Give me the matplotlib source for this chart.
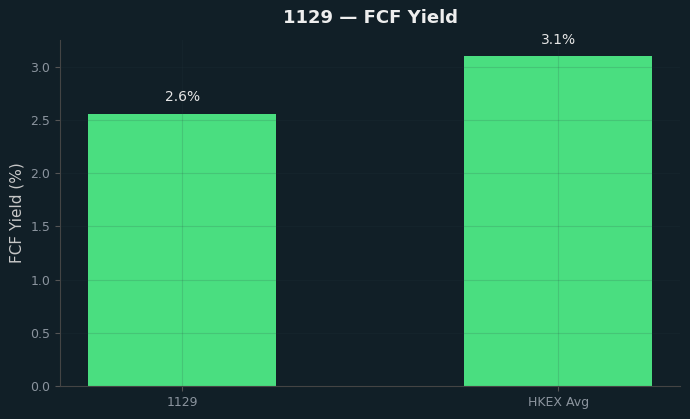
import matplotlib
matplotlib.use('Agg')
import matplotlib.pyplot as plt

# Datos
categorias = ['1129', 'HKEX Avg']
valores    = [2.56, 3.10]
etiquetas  = ['2.6%', '3.1%']

bg    = '#111f27'
verde = '#4ade80'

fig, ax = plt.subplots(figsize=(6.9, 4.19), dpi=100)
fig.patch.set_facecolor(bg)
ax.set_facecolor(bg)

x = range(len(categorias))
bars = ax.bar(x, valores, width=0.5, color=verde)
ax.set_xticks(list(x))
ax.set_xticklabels(categorias)

for b, txt in zip(bars, etiquetas):
    ax.annotate(txt, (b.get_x() + b.get_width()/2, b.get_height()),
                xytext=(0, 7), textcoords='offset points',
                ha='center', va='bottom', color='#e6e6e6', fontsize=10)

ax.set_ylim(0, max(valores)*1.05)
ax.set_title('1129 — FCF Yield', color='#eeeeee', fontsize=13,
             fontweight='bold', pad=12)
ax.set_ylabel('FCF Yield (%)', color='#c8c8c8', fontsize=11)

ax.grid(True, color='#2a3a42', alpha=0.15, linewidth=0.8)
for s in ['top', 'right']:
    ax.spines[s].set_visible(False)
for s in ['left', 'bottom']:
    ax.spines[s].set_color('#444444')
ax.tick_params(colors='#8b949e', labelsize=9)
ax.tick_params(axis='both', color='#555555')

plt.subplots_adjust(left=0.087, right=0.986, top=0.905, bottom=0.079)
fig.savefig('out.png', dpi=100, facecolor=bg)
